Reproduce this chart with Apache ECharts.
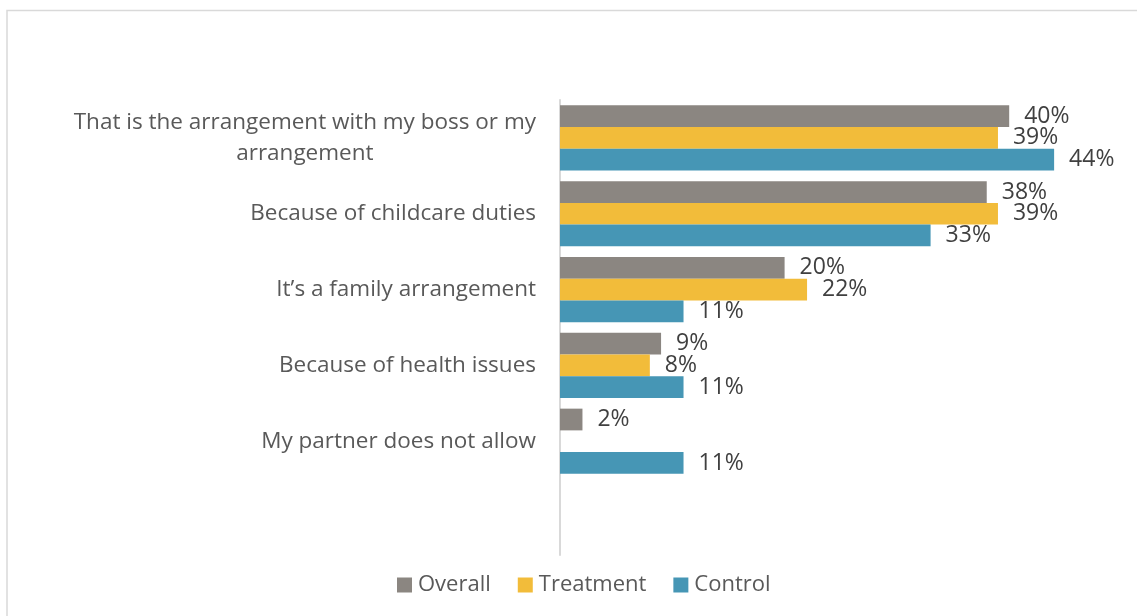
<!DOCTYPE html>
<html>
<head>
<meta charset="utf-8">
<title>Reasons</title>
<script src="https://cdn.jsdelivr.net/npm/echarts@6/dist/echarts.min.js"></script>
<style>
  html, body { margin: 0; padding: 0; background: #ffffff; }
  #chart { width: 1137px; height: 616px; }
</style>
</head>
<body>
<div id="chart"></div>
<script>
// Reasons (top to bottom); the trailing blank slot keeps Excel-style spacing at the bottom
const categories = [
  'That is the arrangement with my boss or my\narrangement',
  'Because of childcare duties',
  'It\u2019s a family arrangement',
  'Because of health issues',
  'My partner does not allow',
  ''
];

// Shares in percent
const overall   = [40, 38, 20, 9, 2];
const treatment = [39, 39, 22, 8, null];
const control   = [44, 33, 11, 11, 11];

const seriesNames = ['Overall', 'Treatment', 'Control'];
const colors = ['#8B8681', '#F2BC3A', '#4696B5'];

const FONT = '"Open Sans", "Noto Sans", sans-serif';
const CAT_SIZE = 22.5;
const CAT_LINE = 31;

// Wrapped category names are centred line by line: each line gets equal
// padding on both sides so that every line spans the widest line's width.
const measureCtx = document.createElement('canvas').getContext('2d');
measureCtx.font = CAT_SIZE + 'px ' + FONT;
const catRich = {};
const catTokens = categories.map((name, ci) => {
  const lines = name.split('\n');
  const widths = lines.map(s => measureCtx.measureText(s).width);
  const maxW = Math.max.apply(null, widths);
  return lines.map((s, li) => {
    const key = 'c' + ci + 'l' + li;
    const pad = (maxW - widths[li]) / 2;
    catRich[key] = {
      color: '#595959', fontFamily: FONT, fontSize: CAT_SIZE, lineHeight: CAT_LINE,
      padding: [0, pad, 0, pad]
    };
    return '{' + key + '|' + s + '}';
  }).join('\n');
});

function barSeries(name, data, color) {
  return {
    name: name,
    type: 'bar',
    data: data,
    barGap: '0%',
    barCategoryGap: '14%',
    itemStyle: { color: color },
    label: {
      show: true,
      position: 'right',
      distance: 15,
      formatter: p => (p.value == null ? '' : p.value + '%'),
      color: '#404040',
      fontFamily: FONT,
      fontSize: 23
    },
    emphasis: { disabled: true }
  };
}

const chart = echarts.init(document.getElementById('chart'), null, { renderer: 'canvas' });

chart.setOption({
  animation: false,
  textStyle: { fontFamily: FONT },
  graphic: [{
    type: 'rect',
    silent: true,
    shape: { x: 7, y: 10.5, width: 1150, height: 620 },
    style: { fill: 'none', stroke: '#D9D9D9', lineWidth: 1.5 }
  }],
  grid: { left: 560, right: 15.5, top: 100, bottom: 61, containLabel: false },
  legend: {
    data: seriesNames,
    left: 392,
    top: 569,
    icon: 'rect',
    itemWidth: 15,
    itemHeight: 15,
    itemGap: 27,
    textStyle: { color: '#595959', fontFamily: FONT, fontSize: 22, padding: [0, 0, 0, 1] },
    selectedMode: false
  },
  xAxis: {
    type: 'value',
    min: 0,
    max: 50,
    show: false,
    splitLine: { show: false }
  },
  yAxis: {
    type: 'category',
    data: categories,
    inverse: true,
    axisLine: { show: true, lineStyle: { color: '#D9D9D9', width: 2 } },
    axisTick: { show: false },
    splitLine: { show: false },
    axisLabel: {
      margin: 24,
      color: '#595959',
      fontFamily: FONT,
      fontSize: CAT_SIZE,
      lineHeight: CAT_LINE,
      formatter: (v, i) => catTokens[i],
      rich: catRich
    }
  },
  series: [
    barSeries(seriesNames[0], overall, colors[0]),
    barSeries(seriesNames[1], treatment, colors[1]),
    barSeries(seriesNames[2], control, colors[2])
  ]
});
</script>
</body>
</html>
